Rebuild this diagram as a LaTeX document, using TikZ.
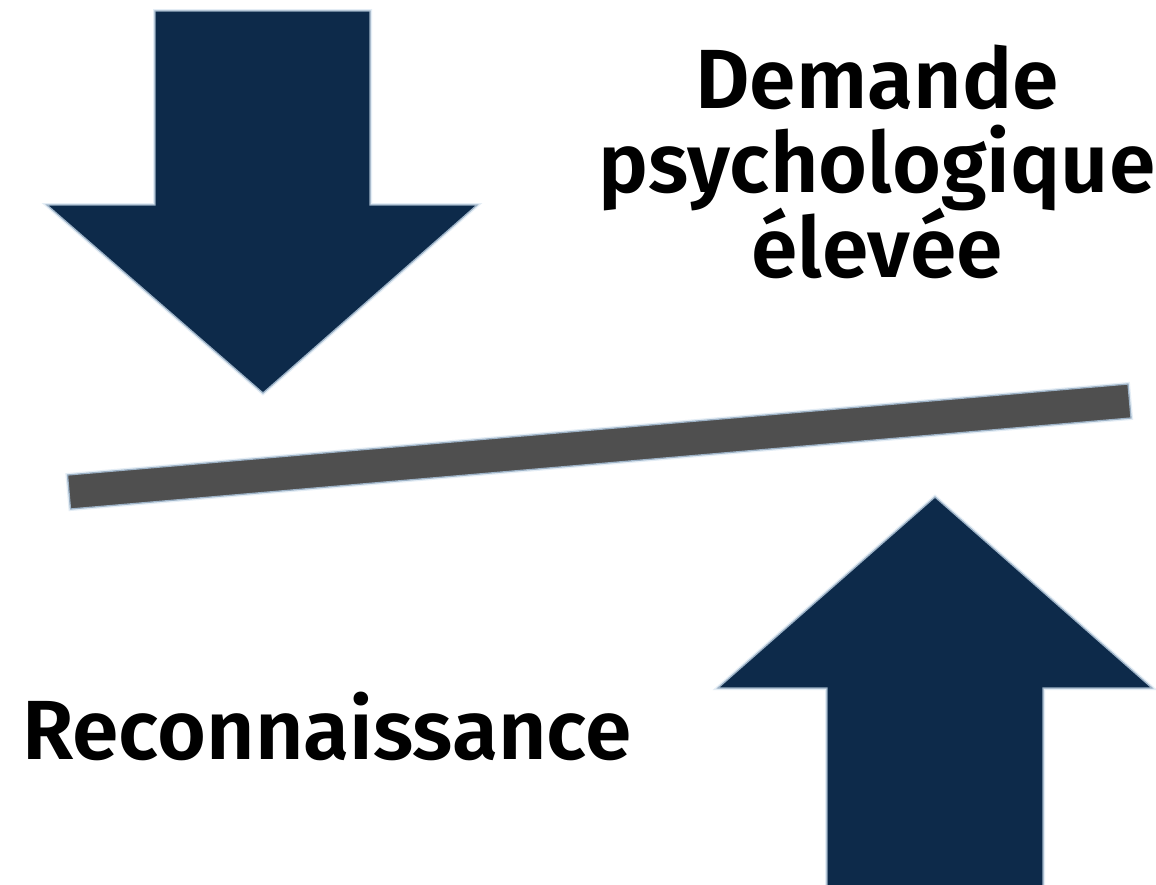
\documentclass[tikz,border=0pt]{standalone}
\usepackage{fontspec}
\setmainfont{Fira Sans}[BoldFont={Fira Sans SemiBold}]
\definecolor{navy}{HTML}{0D2A4A}
\definecolor{edgeblue}{HTML}{9DB2C6}
\definecolor{halo}{HTML}{E4EDF5}
\definecolor{beam}{HTML}{4F4F4F}
\tikzset{
  shapeglow/.style={draw=halo, line width=4pt, line join=miter},
  navyshape/.style={fill=navy, draw=edgeblue, line width=1.3pt, line join=miter},
  beamshape/.style={fill=beam, draw=edgeblue, line width=1.3pt, line join=miter},
  label/.style={inner sep=0pt, anchor=base, font=\bfseries\fontsize{84}{86}\selectfont, text=black}
}
\begin{document}
\begin{tikzpicture}[x=1pt, y=-1pt]
  \useasboundingbox (0,0) rectangle (1156,884);
  \clip (0,0) rectangle (1156,884);
  \fill[white] (0,0) rectangle (1156,884);

  % downward arrow (top left)
  \draw[shapeglow] (155,11) -- (370,11) -- (370,205) -- (477,205) -- (263,393) -- (47,205) -- (155,205) -- cycle;
  \draw[navyshape] (155,11) -- (370,11) -- (370,205) -- (477,205) -- (263,393) -- (47,205) -- (155,205) -- cycle;

  % upward arrow (bottom right)
  \draw[shapeglow] (935,497) -- (1152,688) -- (1043,688) -- (1043,900) -- (827,900) -- (827,688) -- (718,688) -- cycle;
  \draw[navyshape] (935,497) -- (1152,688) -- (1043,688) -- (1043,900) -- (827,900) -- (827,688) -- (718,688) -- cycle;

  % tilted beam
  \draw[shapeglow] (67.5,475) -- (1128,384) -- (1131,418) -- (70.5,509) -- cycle;
  \draw[beamshape] (67.5,475) -- (1128,384) -- (1131,418) -- (70.5,509) -- cycle;

  % labels
  \node[label] (dem1) at (877,108) {Demande};
  \node[label] (dem2) at (877,192) {psychologique};
  \node[label] (dem3) at (877,277) {élevée};
  \node[label, anchor=base west] (rec) at (22,759) {Reconnaissance};
\end{tikzpicture}
\end{document}
